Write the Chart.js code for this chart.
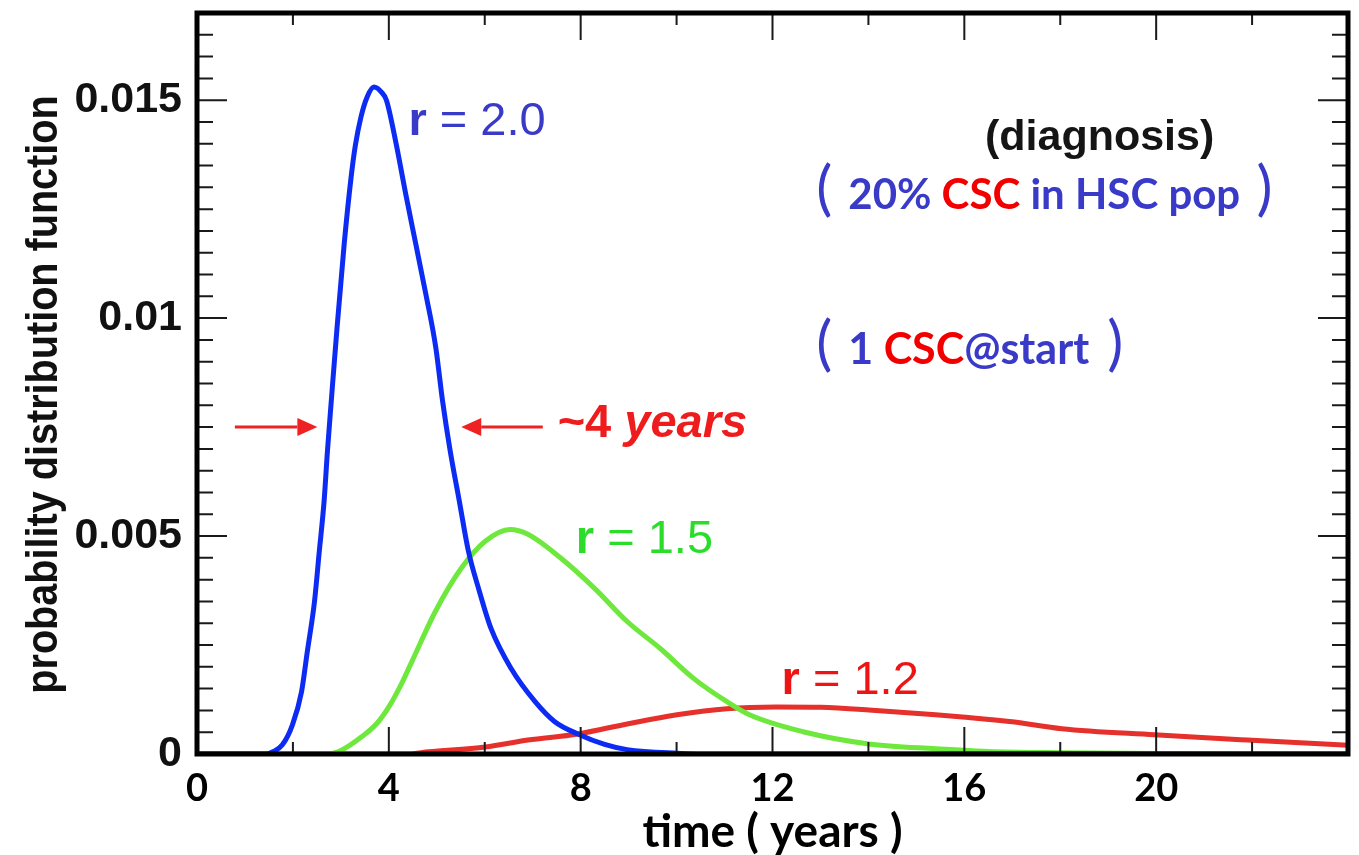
<!DOCTYPE html>
<html>
<head>
<meta charset="utf-8">
<title>Time to diagnosis</title>
<script src="https://cdn.jsdelivr.net/npm/chart.js@4.4.1/dist/chart.umd.min.js"></script>
<style>
  html, body { margin: 0; padding: 0; background: #fff; }
  #wrap { position: relative; width: 1359px; height: 855px; }
</style>
</head>
<body>
<div id="wrap"><canvas id="pdfChart"></canvas></div>
<script>
// Time-to-diagnosis distributions (years) for three CSC growth ratios r

const timeR20 = [0, 1.45, 1.58, 1.78, 1.99, 2.18, 2.30, 2.45, 2.55, 2.65, 2.72, 2.80, 2.92, 3.07, 3.21, 3.30, 3.42, 3.55,
                 3.69, 3.85, 3.95, 4.15, 4.35, 4.56, 4.77, 4.98, 5.12, 5.28, 5.47, 5.66, 5.87, 6.13, 6.55, 7.05, 7.46,
                 7.94, 8.50, 8.97, 10.0, 11.0, 24];
const pdfR20 = [0, 0, 0.00005, 0.00021, 0.00067, 0.00143, 0.00235, 0.0035, 0.00465, 0.0058, 0.00695, 0.0081, 0.00978,
                0.01171, 0.0132, 0.01395, 0.01462, 0.01508, 0.0153, 0.01518, 0.01500, 0.01401, 0.01286, 0.01171,
                0.01056, 0.00932, 0.0081, 0.00695, 0.0058, 0.00465, 0.0038, 0.00288, 0.00196, 0.0012, 0.00074,
                0.00046, 0.00022, 0.0001, 0.00002, 0, 0];

const timeR15 = [0, 2.7, 3.0, 3.44, 3.75, 4.0, 4.25, 4.48, 4.97, 5.51, 6.01, 6.53, 6.90, 7.59, 8.29, 8.97, 9.66, 10.36,
                 11.05, 11.52, 12.64, 14.01, 15.4, 16.5, 18.0, 20, 24];
const pdfR15 = [0, 0, 0.00008, 0.0004, 0.0007, 0.00108, 0.00158, 0.00212, 0.00327, 0.00426, 0.00488, 0.00515, 0.00504,
                0.00449, 0.0038, 0.00304, 0.00242, 0.00173, 0.0012, 0.0009, 0.00051, 0.00023, 0.00012, 0.00006,
                0.00003, 0.00001, 0];

const timeR12 = [0, 4.4, 4.83, 6.01, 6.90, 7.94, 8.97, 10.01, 11.05, 12.08, 13.0, 14.01, 15.4, 15.96, 17.0, 18.03,
                 19.96, 21.9, 24];
const pdfR12 = [0, 0, 0.00005, 0.00016, 0.00032, 0.00046, 0.00069, 0.0009, 0.00104, 0.00108, 0.00107, 0.00101,
                0.0009, 0.00085, 0.00074, 0.00058, 0.00044, 0.00032, 0.0002];

const xTickValues = [0, 4, 8, 12, 16, 20];
const xTickLabels = ['0', '4', '8', '12', '16', '20'];
const yTickValues = [0, 0.005, 0.01, 0.015];
const yTickLabels = ['0', '0.005', '0.01', '0.015'];

const X_MAX = 24;
const Y_MAX = 0.017;
const X_MINOR = 2, X_MAJOR = 4;
const Y_MINOR = 0.0005, Y_MAJOR = 0.005;

const SANS = '"Liberation Sans", Arial, sans-serif';
const CALI = 'Lato, "Open Sans", sans-serif';

const BLUE_TXT = '#3a3ac8';

function toPoints(xs, ys) {
    return xs.map((t, i) => ({ x: t, y: ys[i] }));
}

// Text placed in data units, drawn as runs of differently styled pieces
const notes = [
    { at: [4.41, 0.01421], runs: [
        { text: 'r', font: `bold 47px ${SANS}`, color: BLUE_TXT },
        { text: ' = 2.0', font: `47px ${SANS}`, color: BLUE_TXT }] },
    { at: [7.90, 0.00462], runs: [
        { text: 'r', font: `bold 47px ${SANS}`, color: '#2bdc2b' },
        { text: ' = 1.5', font: `47px ${SANS}`, color: '#2bdc2b' }] },
    { at: [12.19, 0.00138], runs: [
        { text: 'r', font: `bold 47px ${SANS}`, color: '#ee1414' },
        { text: ' = 1.2', font: `47px ${SANS}`, color: '#ee1414' }] },
    { at: [16.43, 0.01385], runs: [
        { text: '(diagnosis)', font: `bold 43px ${SANS}`, color: '#151515' }] },
    { at: [12.91, 0.0125], runs: [{ text: '(', font: `60px ${CALI}`, color: BLUE_TXT }] },
    { at: [13.58, 0.0125], runs: [
        { text: '20% ', font: `bold 42px ${CALI}`, color: BLUE_TXT },
        { text: 'CSC', font: `bold 42px ${CALI}`, color: '#f20000' },
        { text: ' in HSC pop', font: `bold 42px ${CALI}`, color: BLUE_TXT }] },
    { at: [22.09, 0.0125], runs: [{ text: ')', font: `60px ${CALI}`, color: BLUE_TXT }] },
    { at: [12.91, 0.00895], runs: [{ text: '(', font: `60px ${CALI}`, color: BLUE_TXT }] },
    { at: [13.58, 0.00895], runs: [
        { text: '1 ', font: `bold 43px ${CALI}`, color: BLUE_TXT },
        { text: 'CSC', font: `bold 43px ${CALI}`, color: '#f20000' },
        { text: '@start', font: `bold 43px ${CALI}`, color: BLUE_TXT }] },
    { at: [18.98, 0.00895], runs: [{ text: ')', font: `60px ${CALI}`, color: BLUE_TXT }] },
    { at: [7.52, 0.00727], runs: [
        { text: '~4 ', font: `bold 47px ${SANS}`, color: '#ee1c1c' },
        { text: 'years', font: `italic bold 47px ${SANS}`, color: '#ee1c1c' }] }
];

// Width markers around the r = 2.0 peak
const arrows = [
    { from: [0.79, 0.0075], to: [2.51, 0.0075] },
    { from: [7.21, 0.0075], to: [5.51, 0.0075] }
];

// Closed frame with inward ticks on all four sides
const frameTicks = {
    id: 'frameTicks',
    afterDatasetsDraw(chart) {
        const { ctx, chartArea: a, scales: { x, y } } = chart;
        ctx.save();
        ctx.strokeStyle = '#1a1a1a';
        ctx.lineWidth = 2;
        ctx.beginPath();
        for (let i = 0; i * X_MINOR <= X_MAX; i++) {
            const v = i * X_MINOR;
            const px = x.getPixelForValue(v);
            const len = (v % X_MAJOR === 0) ? 27 : 12;
            ctx.moveTo(px, a.bottom); ctx.lineTo(px, a.bottom - len);
            ctx.moveTo(px, a.top); ctx.lineTo(px, a.top + len);
        }
        for (let i = 0; i * Y_MINOR <= Y_MAX + 1e-9; i++) {
            const py = y.getPixelForValue(i * Y_MINOR);
            const len = (i % Math.round(Y_MAJOR / Y_MINOR) === 0) ? 30 : 16;
            ctx.moveTo(a.left, py); ctx.lineTo(a.left + len, py);
            ctx.moveTo(a.right, py); ctx.lineTo(a.right - len, py);
        }
        ctx.stroke();
        ctx.lineWidth = 5;
        ctx.strokeStyle = '#000';
        ctx.strokeRect(a.left, a.top, a.right - a.left, a.bottom - a.top);
        ctx.restore();
    }
};

// Condensed vertical y-axis title (no narrow face installed, so squeeze the regular one)
const yTitle = {
    id: 'yTitle',
    afterDraw(chart) {
        const { ctx, chartArea: a } = chart;
        ctx.save();
        ctx.translate(45, (a.top + a.bottom) / 2 + 11);
        ctx.rotate(-Math.PI / 2);
        ctx.scale(0.9, 1);
        ctx.font = `bold 44px ${SANS}`;
        ctx.fillStyle = '#111';
        ctx.textAlign = 'center';
        ctx.textBaseline = 'middle';
        ctx.fillText('probability distribution function', 0, 0);
        ctx.restore();
    }
};

const annotations = {
    id: 'annotations',
    afterDraw(chart) {
        const { ctx, scales: { x, y } } = chart;
        ctx.save();
        ctx.textAlign = 'left';
        ctx.textBaseline = 'alphabetic';
        notes.forEach(n => {
            let cx = x.getPixelForValue(n.at[0]);
            const cy = y.getPixelForValue(n.at[1]);
            n.runs.forEach(r => {
                ctx.font = r.font;
                ctx.fillStyle = r.color;
                ctx.fillText(r.text, cx, cy);
                cx += ctx.measureText(r.text).width;
            });
        });
        ctx.strokeStyle = '#ee2222';
        ctx.fillStyle = '#ee2222';
        ctx.lineWidth = 3;
        arrows.forEach(ar => {
            const x0 = x.getPixelForValue(ar.from[0]), y0 = y.getPixelForValue(ar.from[1]);
            const x1 = x.getPixelForValue(ar.to[0]), y1 = y.getPixelForValue(ar.to[1]);
            const dir = Math.sign(x1 - x0);
            const head = 20;
            ctx.beginPath();
            ctx.moveTo(x0, y0);
            ctx.lineTo(x1 - dir * head, y1);
            ctx.stroke();
            ctx.beginPath();
            ctx.moveTo(x1, y1);
            ctx.lineTo(x1 - dir * head, y1 - 9);
            ctx.lineTo(x1 - dir * head, y1 + 9);
            ctx.closePath();
            ctx.fill();
        });
        ctx.restore();
    }
};

const ctx = document.getElementById('pdfChart').getContext('2d');
new Chart(ctx, {
    type: 'line',
    data: {
        datasets: [
            { label: 'r = 2.0', data: toPoints(timeR20, pdfR20), borderColor: '#0c2cf4' },
            { label: 'r = 1.5', data: toPoints(timeR15, pdfR15), borderColor: '#6ee83c' },
            { label: 'r = 1.2', data: toPoints(timeR12, pdfR12), borderColor: '#e5302b' }
        ]
    },
    options: {
        responsive: true,
        maintainAspectRatio: false,
        animation: false,
        layout: { padding: { top: 13, right: 11, left: 0, bottom: 0 } },
        elements: {
            line: { borderWidth: 5, cubicInterpolationMode: 'monotone', fill: false },
            point: { radius: 0, hoverRadius: 0 }
        },
        plugins: {
            legend: { display: false },
            tooltip: { enabled: false }
        },
        scales: {
            x: {
                type: 'linear',
                min: 0,
                max: X_MAX,
                grid: { display: false, drawTicks: false },
                border: { display: false },
                afterBuildTicks: s => { s.ticks = xTickValues.map(v => ({ value: v })); },
                afterFit: s => { s.height = 101; s.paddingLeft = 0; s.paddingRight = 0; },
                ticks: {
                    padding: 12,
                    maxRotation: 0,
                    color: '#000',
                    font: { family: CALI, size: 38, weight: 'bold' },
                    callback: v => xTickLabels[xTickValues.indexOf(v)]
                },
                title: {
                    display: true,
                    text: 'time ( years )',
                    color: '#000',
                    font: { family: CALI, size: 46, weight: 'bold', lineHeight: 1 },
                    padding: { top: 0, bottom: 0 }
                }
            },
            y: {
                min: 0,
                max: Y_MAX,
                grid: { display: false, drawTicks: false },
                border: { display: false },
                afterBuildTicks: s => { s.ticks = yTickValues.map(v => ({ value: v })); },
                afterFit: s => { s.width = 197; s.paddingTop = 0; s.paddingBottom = 0; },
                ticks: {
                    padding: 15,
                    color: '#111',
                    font: { family: SANS, size: 43, weight: 'bold' },
                    callback: v => yTickLabels[yTickValues.indexOf(v)]
                }
            }
        }
    },
    plugins: [frameTicks, annotations, yTitle]
});
</script>
</body>
</html>
